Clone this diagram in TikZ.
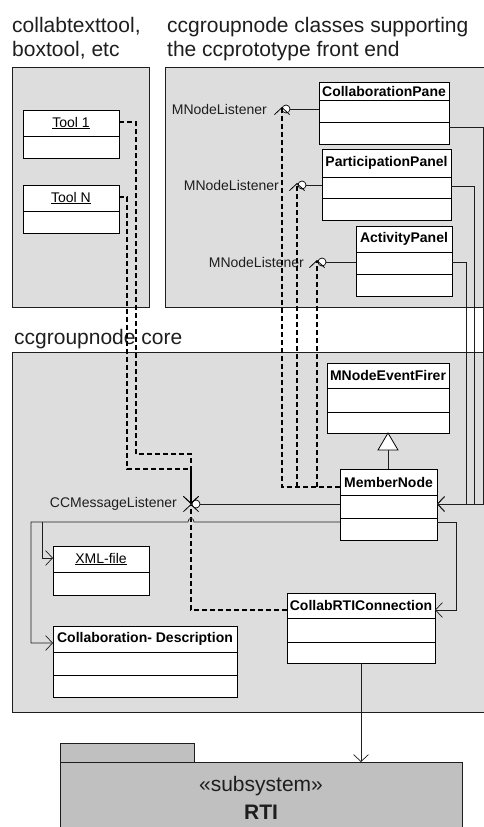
\documentclass[tikz,border=0pt]{standalone}
\usepackage{fontspec}
\setmainfont{Liberation Sans}
\usetikzlibrary{arrows.meta}

\definecolor{framegray}{RGB}{221,221,221}
\definecolor{pkggray}{RGB}{192,192,192}
\definecolor{inkgray}{RGB}{30,30,30}

\tikzset{
  pkgframe/.style={draw=inkgray, fill=framegray, line width=0.8pt},
  clsbox/.style={draw=black, fill=white, line width=0.8pt, inner sep=0pt, outer sep=0pt},
  clsline/.style={draw=black, line width=0.8pt},
  clsname/.style={font=\bfseries\fontsize{14}{16}\selectfont, inner sep=0pt},
  objname/.style={font=\fontsize{14}{16}\selectfont, inner sep=0pt},
  ifacelbl/.style={font=\fontsize{14}{16}\selectfont, text=inkgray, anchor=east, inner sep=0pt},
  heading/.style={font=\fontsize{21}{24}\selectfont, text=inkgray, anchor=base west, inner sep=0pt},
  lolli/.style={circle, draw=black, fill=white, line width=0.7pt, minimum size=8pt, inner sep=0pt},
  usedep/.style={line width=1.2pt, dash pattern=on 5pt off 3pt,
    -{Straight Barb[length=7pt,width=15pt,line width=0.8pt]}},
  assoc/.style={line width=0.7pt, draw=inkgray},
  navi/.style={assoc, -{Straight Barb[length=7pt,width=15pt,line width=0.7pt]}},
}

% class with name compartment and two further compartments
% #1 name, #2 x1, #3 y1, #4 x2, #5 y2, #6 first divider, #7 second divider, #8 text
\newcommand{\umlclassbox}[8]{%
  \node[clsbox, anchor=north west, minimum width={#4-#2}, minimum height={#5-#3}] (#1) at (#2,#3) {};
  \draw[clsline] (#2,#6) -- (#4,#6);
  \draw[clsline] (#2,#7) -- (#4,#7);
  \node[clsname] (#1-name) at ({(#2+#4)/2},{(#3+#6)/2}) {#8};
}
% object with name compartment and one further compartment
% #1 name, #2 x1, #3 y1, #4 x2, #5 y2, #6 divider, #7 text
\newcommand{\umlobjbox}[7]{%
  \node[clsbox, anchor=north west, minimum width={#4-#2}, minimum height={#5-#3}] (#1) at (#2,#3) {};
  \draw[clsline] (#2,#6) -- (#4,#6);
  \node[objname] (#1-name) at ({(#2+#4)/2},{(#3+#6)/2}) {\underline{#7}};
}

\begin{document}
\begin{tikzpicture}[x=1pt, y=-1pt]
\useasboundingbox (0,0) rectangle (484,827);
\fill[white] (0,0) rectangle (484,827);
\clip (0,0) rectangle (484,827);

% package frames
\draw[pkgframe] (12,67) rectangle (149,307);
\draw[pkgframe] (165,67) rectangle (495,307);
\draw[pkgframe] (12,352) rectangle (495,712);

\node[heading] (hl1) at (12,32) {collabtexttool,};
\node[heading] (hl2) at (12,56) {boxtool, etc};
\node[heading] (hr1) at (167,32) {ccgroupnode classes supporting};
\node[heading] (hr2) at (167,56) {the ccprototype front end};
\node[heading] (hc) at (14,344) {ccgroupnode core};

% tools
\umlobjbox{toolA}{23}{110}{119}{158}{136}{Tool 1}
\umlobjbox{toolB}{23}{185}{119}{233}{211}{Tool N}

% front end classes
\umlclassbox{cpane}{319}{82}{449}{144}{100}{122}{CollaborationPane}
\umlclassbox{ppanel}{322}{149}{451}{220}{177}{198}{ParticipationPanel}
\umlclassbox{apanel}{356}{226}{452}{296}{252}{274}{ActivityPanel}

% core classes
\umlclassbox{firer}{327}{363}{449}{433}{388}{412}{MNodeEventFirer}
\umlclassbox{member}{340}{469}{437}{540}{495}{518}{MemberNode}
\umlobjbox{xmlfile}{53}{546}{149}{595}{572}{XML-file}
\umlclassbox{rticonn}{287}{593}{435}{663}{618}{642}{CollabRTIConnection}
\umlclassbox{cdesc}{53}{626}{237}{697}{652}{675}{Collaboration- Description}

% RTI subsystem package
\draw[draw=inkgray, fill=pkggray, line width=0.8pt] (60,743) rectangle (194,762);
\node[draw=inkgray, fill=pkggray, line width=0.8pt, anchor=north west, minimum width=402, minimum height=100, inner sep=0pt] (rti) at (60,762) {};
\node[font=\fontsize{21}{24}\selectfont, text=inkgray, inner sep=0pt] (rti-st) at (261,786) {«subsystem»};
\node[font=\bfseries\fontsize{21}{24}\selectfont, text=inkgray, inner sep=0pt] (rti-name) at (261,812) {RTI};

% generalization
\coordinate (genbase) at (388,450);
\draw[assoc] (member.north -| genbase) -- (genbase);
\draw[line width=0.8pt, fill=white] (genbase) ++(-10,0) -- (388,433) -- (398,450) -- cycle;

% provided interfaces
\node[lolli] (li1) at (286,109) {};
\node[lolli] (li2) at (302,185) {};
\node[lolli] (li3) at (322,262) {};
\node[lolli] (lcm) at (196,504) {};
\draw[assoc] (li1) -- (cpane.west |- li1);
\draw[assoc] (li2) -- (ppanel.west |- li2);
\draw[assoc] (li3) -- (apanel.west |- li3);
\draw[assoc] (lcm) -- (member.west |- lcm);
\node[ifacelbl] (li1-l) at (267,109) {MNodeListener};
\node[ifacelbl] (li2-l) at (279,185) {MNodeListener};
\node[ifacelbl] (li3-l) at (304,262) {MNodeListener};
\node[ifacelbl] (lcm-l) at (177,504) {CCMessageListener};

% MemberNode uses MNodeListener
\draw[usedep] (member.west |- 0,487) -- (282,487) -- (282,107);
\draw[usedep] (297,487) -- (297,183);
\draw[usedep] (317,487) -- (317,260);

% tools and CollabRTIConnection use CCMessageListener
\draw[usedep] (toolA.east |- 0,122) -- (136,122) -- (136,454) -- (191,454) -- (191,504);
\draw[usedep] (toolB.east |- 0,197) -- (127,197) -- (127,469) -- (191,469) -- (191,504);
\draw[usedep] (rticonn.west |- 0,610) -- (191,610) -- (191,504);

% front end classes navigate to MemberNode
\draw[navi] (cpane.east |- 0,127) -- (483,127) -- (483,504) -- (member.east |- 0,504);
\draw[navi] (ppanel.east |- 0,186) -- (474,186) -- (474,504) -- (member.east |- 0,504);
\draw[navi] (apanel.east |- 0,262) -- (466,262) -- (466,504) -- (member.east |- 0,504);

% MemberNode navigates to core classes
\draw[navi] (member.west |- 0,522) -- (194,522) .. controls (194,517) and (188,517) .. (188,522)
  -- (31,522) -- (31,643) -- (cdesc.west |- 0,643);
\draw[navi] (42,522) -- (42,558) -- (xmlfile.west |- 0,558);
\draw[navi] (member.east |- 0,522) -- (456,522) -- (456,610) -- (rticonn.east |- 0,610);
\draw[navi] (rticonn.south) -- (rticonn.south |- rti.north);
\end{tikzpicture}
\end{document}
